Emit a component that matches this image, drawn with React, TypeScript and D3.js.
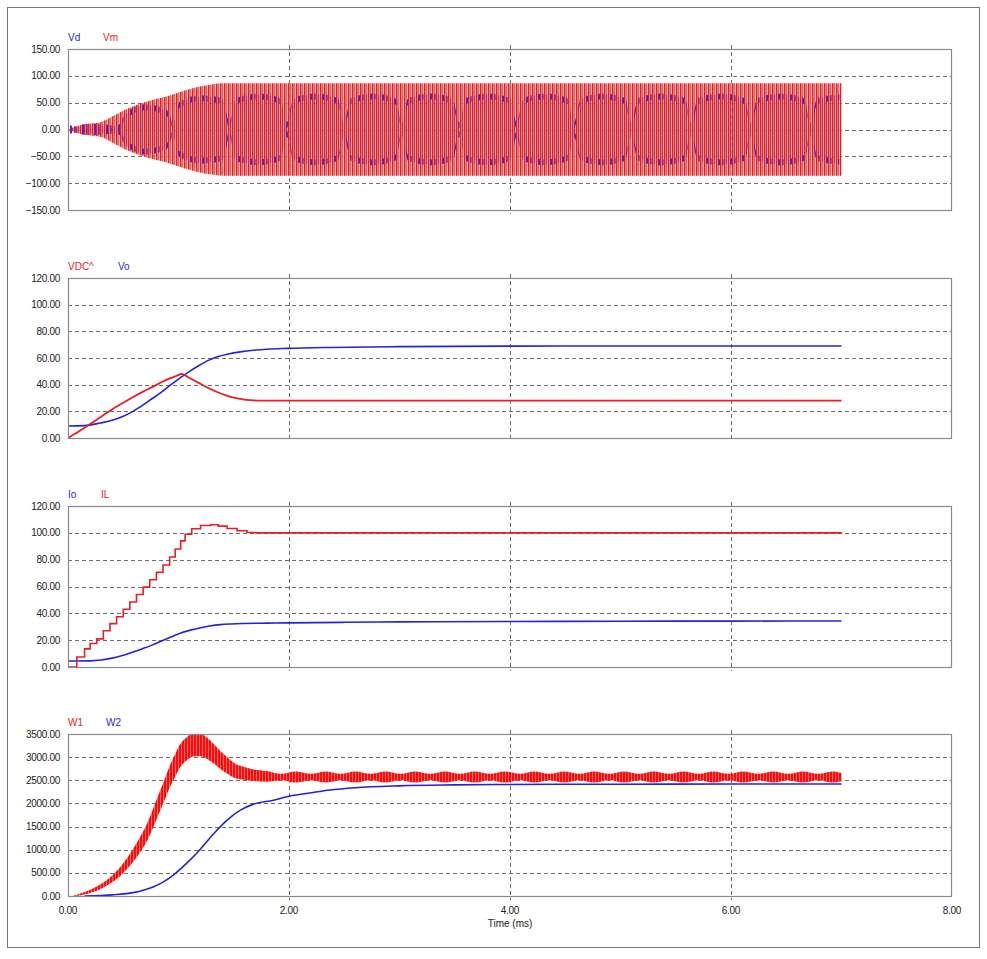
import React from "react";
import * as d3 from "d3";

const W = 987;
const H = 959;
const X0 = 68;
const X1 = 952;

const timeTicks = [0, 2, 4, 6, 8];

// panel 1: Vd / Vm (envelopes of the switching waveforms, V)
const vmTime = [0, 0.05, 0.12, 0.2, 0.3, 0.4, 0.53, 0.65, 0.78, 0.9, 1.05, 1.19, 1.3, 1.4, 7.0];
const vmAmp = [0, 4, 9, 11, 14, 24, 38, 48, 56, 62, 72, 80, 84, 86, 86];
const vdTime = [0, 0.2, 0.45, 0.52, 0.7, 0.89, 0.95, 1.01, 1.2, 1.4, 1.46, 1.52, 1.72, 1.92, 1.98, 2.04,
  2.24, 2.44, 2.5, 2.56, 2.76, 2.96, 3.02, 3.08, 3.28, 3.48, 3.54, 3.6, 3.8, 4.0, 4.06, 4.12,
  4.32, 4.52, 4.58, 4.64, 4.84, 5.04, 5.1, 5.16, 5.37, 5.58, 5.64, 5.7, 5.91, 6.12, 6.18, 6.24,
  6.45, 6.66, 6.72, 6.78, 6.98];
const vdAmp = [0, 9, 6, 28, 45, 36, 12, 50, 62, 57, 12, 57, 65, 57, 12, 57,
  65, 57, 12, 57, 65, 57, 12, 57, 65, 57, 12, 57, 65, 57, 12, 57,
  65, 57, 12, 57, 65, 57, 12, 57, 65, 57, 12, 57, 65, 57, 12, 57,
  65, 57, 12, 57, 64];

// panel 2: VDC^ / Vo
const vdcTime = [0, 0.1, 0.2, 0.3, 0.38, 0.5, 0.59, 0.68, 0.77, 0.85, 0.92, 0.98, 1.03, 1.1, 1.19, 1.27,
  1.35, 1.43, 1.5, 1.58, 1.65, 1.75, 2.0, 3.0, 4.0, 5.0, 6.0, 7.0];
const vdcVal = [0, 5, 10.5, 16, 20.5, 26.5, 30.8, 34.8, 38.5, 42, 44.7, 46.5, 48, 45, 41, 37.5,
  34.5, 32, 30.2, 29, 28.4, 28.1, 28.1, 28.1, 28.1, 28.1, 28.1, 28.1];
const voTime = [0, 0.15, 0.29, 0.4, 0.5, 0.58, 0.65, 0.74, 0.83, 0.92, 1.01, 1.1, 1.19, 1.27, 1.35,
  1.45, 1.56, 1.68, 1.8, 1.99, 2.37, 3.0, 4.0, 5.0, 6.0, 7.0];
const voVal = [9, 9.3, 11.2, 13.3, 16.3, 19.6, 23.2, 28.3, 33.4, 39.2, 44.7, 50, 54.6, 58.2, 60.9,
  63.0, 64.6, 65.8, 66.6, 67.2, 67.9, 68.5, 68.9, 69.0, 69.0, 69.0];

// panel 3: Io / IL
const ilTime = [0, 0.08, 0.15, 0.2, 0.26, 0.32, 0.38, 0.44, 0.5, 0.56, 0.62, 0.68, 0.74, 0.8, 0.86,
  0.92, 0.97, 1.02, 1.06, 1.12, 1.2, 1.29, 1.36, 1.44, 1.53, 1.62, 1.7, 7.0];
const ilVal = [0, 7.5, 13.5, 17.5, 21, 27, 32.3, 37.5, 43, 48.5, 54, 59.5, 65, 70.5, 76,
  82, 88, 94, 99, 103, 105.5, 106, 105, 103.2, 101.5, 100.3, 100, 100.2];
const ioTime = [0, 0.2, 0.3, 0.4, 0.5, 0.59, 0.68, 0.76, 0.83, 0.92, 1.01, 1.1, 1.19, 1.28, 1.38, 1.48,
  1.59, 1.8, 1.99, 2.5, 3.0, 4.0, 5.0, 6.0, 7.0];
const ioVal = [4.5, 4.6, 5.2, 6.6, 8.8, 11.2, 13.8, 16.3, 18.8, 22, 25, 27.3, 29.1, 30.5, 31.6, 32.1,
  32.4, 32.7, 32.9, 33.3, 33.6, 33.9, 34.1, 34.2, 34.3];

// panel 4: W1 (band: mid +/- ripple) / W2
const w1Time = [0.05, 0.15, 0.29, 0.4, 0.47, 0.53, 0.59, 0.65, 0.71, 0.77, 0.83, 0.88, 0.92, 0.97, 1.01,
  1.07, 1.13, 1.2, 1.26, 1.32, 1.38, 1.44, 1.5, 1.59, 1.68, 1.8];
const w1Mid = [0, 60, 196, 370, 520, 690, 880, 1100, 1350, 1680, 2035, 2330, 2575, 2820, 3010,
  3170, 3265, 3260, 3190, 3070, 2935, 2820, 2720, 2650, 2610, 2585];
const w1Half = [5, 25, 50, 75, 95, 115, 140, 165, 185, 205, 215, 225, 235, 245, 250,
  250, 250, 240, 230, 210, 190, 175, 160, 140, 125, 115];
const w1SteadyMid = 2570;
const w1SteadyTime = [1.93, 2.06, 2.2, 2.33, 2.47, 2.6, 2.74, 2.87, 3.01, 3.14, 3.28, 3.41, 3.55, 3.68,
  3.82, 3.95, 4.09, 4.22, 4.36, 4.49, 4.63, 4.76, 4.9, 5.03, 5.17, 5.3, 5.44, 5.57, 5.71, 5.84,
  5.98, 6.11, 6.25, 6.38, 6.52, 6.65, 6.79, 6.92, 7.0];
const w1SteadyHalf = [70, 120, 70, 120, 70, 120, 70, 120, 70, 120, 70, 120, 70, 120,
  70, 120, 70, 120, 70, 120, 70, 120, 70, 120, 70, 120, 70, 120, 70, 120,
  70, 120, 70, 120, 70, 120, 70, 120, 90];
const w2Time = [0.15, 0.4, 0.59, 0.77, 0.86, 0.95, 1.07, 1.19, 1.32, 1.44, 1.56, 1.68, 1.86, 1.99,
  2.2, 2.37, 2.6, 3.0, 3.5, 4.0, 5.0, 6.0, 7.0];
const w2Val = [0, 25, 73, 196, 300, 447, 700, 990, 1350, 1640, 1855, 1985, 2070, 2150,
  2230, 2290, 2340, 2380, 2400, 2410, 2415, 2420, 2420];

const p1Ticks = [-150, -100, -50, 0, 50, 100, 150];
const p2Ticks = [0, 20, 40, 60, 80, 100, 120];
const p3Ticks = [0, 20, 40, 60, 80, 100, 120];
const p4Ticks = [0, 500, 1000, 1500, 2000, 2500, 3000, 3500];

const RED = "#ee1c24";
const BLUE = "#2323d8";
const FONT = "'Liberation Sans', Arial, sans-serif";

const zip = (t: number[], v: number[]) => t.map((d, i) => [d, v[i]] as [number, number]);
const fmt = d3.format(".2f");
const x = d3.scaleLinear().domain([0, 8]).range([X0, X1]);

type Band = [number, number, number];

type PanelProps = {
  id: string;
  top: number;
  bottom: number;
  ticks: number[];
  legend: { text: string; color: string; dx: number }[];
  draw: (y: d3.ScaleLinear<number, number>) => React.ReactNode;
};

function Panel({ id, top, bottom, ticks, legend, draw }: PanelProps) {
  const y = d3.scaleLinear().domain([ticks[0], ticks[ticks.length - 1]]).range([bottom, top]);
  return (
    <g>
      <clipPath id={`clip-${id}`}>
        <rect x={X0} y={top} width={X1 - X0} height={bottom - top} />
      </clipPath>
      <rect x={X0} y={top} width={X1 - X0} height={bottom - top} fill="#fff" />
      {ticks.slice(1, -1).map((t) => (
        <line key={`h${t}`} x1={X0} x2={X1} y1={Math.round(y(t)) + 0.5} y2={Math.round(y(t)) + 0.5}
          stroke="#6e6e6e" strokeDasharray="4 3" />
      ))}
      {timeTicks.slice(1, -1).map((t) => (
        <line key={`v${t}`} x1={Math.round(x(t)) + 0.5} x2={Math.round(x(t)) + 0.5} y1={top - 4} y2={bottom + 4}
          stroke="#6e6e6e" strokeDasharray="4 3" />
      ))}
      <g clipPath={`url(#clip-${id})`}>{draw(y)}</g>
      <rect x={X0 + 0.5} y={top + 0.5} width={X1 - X0 - 1} height={bottom - top} fill="none" stroke="#8a8a8a" strokeWidth={1.2} />
      {ticks.map((t) => (
        <text key={`t${t}`} x={60} y={y(t)} dy="0.35em" textAnchor="end" fontSize={10}
          fontFamily={FONT} fill="#222" letterSpacing={-0.3}>{fmt(t)}</text>
      ))}
      {legend.map((l) => (
        <text key={l.text} x={X0 + l.dx} y={top - 8.5} fontSize={10} fontFamily={FONT} fill={l.color}>{l.text}</text>
      ))}
    </g>
  );
}

export default function App() {
  const lineOf = (y: d3.ScaleLinear<number, number>, curve: d3.CurveFactory = d3.curveMonotoneX) =>
    d3.line<[number, number]>().x((d) => x(d[0])).y((d) => y(d[1])).curve(curve);
  // band around a centre value: [time, centre, half width]
  const bandOf = (y: d3.ScaleLinear<number, number>) =>
    d3.area<Band>()
      .x((d) => x(d[0])).y0((d) => y(d[1] - d[2])).y1((d) => y(d[1] + d[2]))
      .curve(d3.curveMonotoneX);
  // thin strip just inside an envelope edge (sign = +1 top, -1 bottom), in pixels
  const capOf = (y: d3.ScaleLinear<number, number>, sign: number) =>
    d3.area<[number, number]>()
      .x((d) => x(d[0]))
      .y0((d) => y(sign * d[1]) + sign * 5)
      .y1((d) => y(sign * d[1]) - sign * 1)
      .curve(d3.curveMonotoneX);

  const vmBand = vmTime.map((t, i) => [t, 0, vmAmp[i]] as Band);
  const vdBand = vdTime.map((t, i) => [t, 0, vdAmp[i]] as Band);
  const vdEnv = zip(vdTime, vdAmp);
  const w1Band = [
    ...w1Time.map((t, i) => [t, w1Mid[i], w1Half[i]] as Band),
    ...w1SteadyTime.map((t, i) => [t, w1SteadyMid, w1SteadyHalf[i]] as Band),
  ];

  return (
    <svg width={W} height={H} style={{ position: "absolute", left: 0, top: 0, background: "#fff" }}>
      <defs>
        <pattern id="vmPat" patternUnits="userSpaceOnUse" x={X0} y={0} width={4} height={10}>
          <rect x={0} y={0} width={4} height={10} fill="#f9d0d0" fillOpacity={0.7} />
          <rect x={0} y={0} width={1.5} height={10} fill="#ff1212" />
          <rect x={2.3} y={0} width={0.9} height={10} fill="#c8343a" />
        </pattern>
        <pattern id="vdPat" patternUnits="userSpaceOnUse" x={X0} y={0} width={4} height={10}>
          <rect x={2.3} y={0} width={0.9} height={10} fill="#8a2c5c" />
        </pattern>
        <pattern id="vdCapPat" patternUnits="userSpaceOnUse" x={X0} y={0} width={12} height={10}>
          <rect x={2} y={0} width={2} height={10} fill="#4a2cb8" />
          <rect x={6} y={0} width={1.6} height={10} fill="#7a2c8c" />
        </pattern>
        <pattern id="w1Pat" patternUnits="userSpaceOnUse" x={X0} y={0} width={3} height={10}>
          <rect x={0} y={0} width={3} height={10} fill="#ffd0d0" />
          <rect x={0} y={0} width={2.5} height={10} fill="#ff0a0a" />
        </pattern>
      </defs>
      <rect x={7.5} y={7.5} width={972} height={940} fill="#fff" stroke="#777" />

      <Panel id="p1" top={49} bottom={210} ticks={p1Ticks}
        legend={[{ text: "Vd", color: "#2a2ad0", dx: 0 }, { text: "Vm", color: RED, dx: 35 }]}
        draw={(y) => {
          const band = bandOf(y);
          return (
            <>
              <path d={band(vmBand) ?? ""} fill="url(#vmPat)" />
              <path d={band(vdBand) ?? ""} fill="url(#vdPat)" />
              <path d={capOf(y, 1)(vdEnv) ?? ""} fill="url(#vdCapPat)" />
              <path d={capOf(y, -1)(vdEnv) ?? ""} fill="url(#vdCapPat)" />
            </>
          );
        }} />

      <Panel id="p2" top={278} bottom={438} ticks={p2Ticks}
        legend={[{ text: "VDC^", color: RED, dx: 0 }, { text: "Vo", color: "#2a2ad0", dx: 50 }]}
        draw={(y) => {
          const line = lineOf(y);
          return (
            <>
              <path d={line(zip(voTime, voVal)) ?? ""} fill="none" stroke={BLUE} strokeWidth={1.6} />
              <path d={line(zip(vdcTime, vdcVal)) ?? ""} fill="none" stroke={RED} strokeWidth={1.8} />
            </>
          );
        }} />

      <Panel id="p3" top={506} bottom={667} ticks={p3Ticks}
        legend={[{ text: "Io", color: "#2a2ad0", dx: 0 }, { text: "IL", color: RED, dx: 33 }]}
        draw={(y) => (
          <>
            <path d={lineOf(y)(zip(ioTime, ioVal)) ?? ""} fill="none" stroke={BLUE} strokeWidth={1.6} />
            <path d={lineOf(y, d3.curveStepAfter)(zip(ilTime, ilVal)) ?? ""} fill="none" stroke={RED} strokeWidth={1.6} />
          </>
        )} />

      <Panel id="p4" top={734} bottom={896} ticks={p4Ticks}
        legend={[{ text: "W1", color: RED, dx: 0 }, { text: "W2", color: "#2a2ad0", dx: 38 }]}
        draw={(y) => (
          <>
            <path d={bandOf(y)(w1Band) ?? ""} fill="url(#w1Pat)" />
            <path d={lineOf(y)(zip(w2Time, w2Val)) ?? ""} fill="none" stroke={BLUE} strokeWidth={1.6} />
          </>
        )} />

      {timeTicks.map((t) => (
        <text key={t} x={x(t)} y={914} textAnchor="middle" fontSize={10} fontFamily={FONT} fill="#222" letterSpacing={-0.3}>
          {fmt(t)}
        </text>
      ))}
      <text x={x(4)} y={927} textAnchor="middle" fontSize={10} fontFamily={FONT} fill="#222">Time (ms)</text>
    </svg>
  );
}
